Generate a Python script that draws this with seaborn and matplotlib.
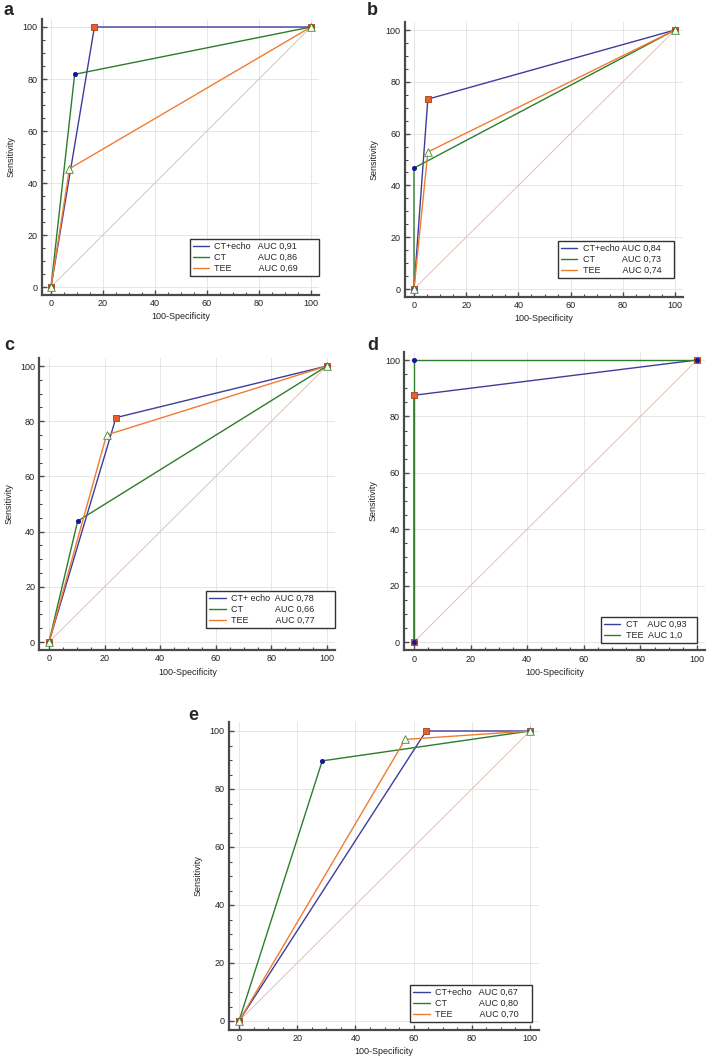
import numpy as np
import pandas as pd
import seaborn as sns
import matplotlib.pyplot as plt
from matplotlib.lines import Line2D
from matplotlib.ticker import MultipleLocator
from matplotlib.textpath import TextPath
from matplotlib.font_manager import FontProperties

sns.set_theme(style="white")
plt.rcParams['font.family'] = ['Liberation Sans', 'DejaVu Sans']

# ROC points: 100-specificity (x) and sensitivity (y) for each test
a_names = ['CT+echo', 'CT', 'TEE']
a_auc = ['0,91', '0,86', '0,69']
a_fpr = [[0, 16.7, 100], [0, 9.1, 100], [0, 7.1, 100]]
a_tpr = [[0, 100, 100], [0, 81.8, 100], [0, 45.5, 100]]

b_names = ['CT+echo', 'CT', 'TEE']
b_auc = ['0,84', '0,73', '0,74']
b_fpr = [[0, 5.3, 100], [0, 0, 100], [0, 5.3, 100]]
b_tpr = [[0, 73.3, 100], [0, 46.7, 100], [0, 52.9, 100]]

c_names = ['CT+ echo', 'CT', 'TEE']
c_auc = ['0,78', '0,66', '0,77']
c_fpr = [[0, 24.1, 100], [0, 10.3, 100], [0, 20.7, 100]]
c_tpr = [[0, 81.3, 100], [0, 43.8, 100], [0, 75.0, 100]]

d_names = ['CT', 'TEE']
d_auc = ['0,93', '1,0']
d_fpr = [[0, 0, 100], [0, 0, 100]]
d_tpr = [[0, 87.5, 100], [0, 100, 100]]

e_names = ['CT+echo', 'CT', 'TEE']
e_auc = ['0,67', '0,80', '0,70']
e_fpr = [[0, 64.3, 100], [0, 28.6, 100], [0, 57.1, 100]]
e_tpr = [[0, 100, 100], [0, 89.7, 100], [0, 97.1, 100]]

W, H = 708, 1061
XLIM = (-3.5, 103)
YLIM = (-3, 103)
FS = 6.5

LINE_COLORS = ['#3d3d9c', '#2c7d2c', '#f07c32']
MARKERS = [dict(marker='s', s=16, color='#e8602c', edgecolor='#a8401c'),
           dict(marker='o', s=9, color='#1414a0', edgecolor='#1414a0'),
           dict(marker='^', s=30, color='#fbfbea', edgecolor='#3a8a3a')]

prop = FontProperties(family='Liberation Sans', size=FS)


def text_w(s):
    return TextPath((0, 0), s, prop=prop).get_extents().width


def legend_labels(names, aucs, gap, tail):
    sp = text_w('x x') - text_w('xx')
    widths = [text_w(n) for n in names]
    wmax = max(widths)
    out = []
    for n, w, a in zip(names, widths, aucs):
        k = gap + int(round((wmax - w) / sp))
        out.append(n + ' ' * k + 'AUC ' + a + '\u00a0' * tail)
    return out


def axes_rect(x0, x100, y0, y100):
    # pixel positions of data 0 and 100 -> figure rect
    ux = (x100 - x0) / 100
    uy = (y0 - y100) / 100
    left = x0 + XLIM[0] * ux
    right = x0 + XLIM[1] * ux
    bottom = y0 - YLIM[0] * uy
    top = y0 - YLIM[1] * uy
    return [left / W, 1 - bottom / H, (right - left) / W, (bottom - top) / H]


def draw(fig, rect, letter, letter_pos, names, aucs, fprs, tprs, gap, tail, anchor):
    ax = fig.add_axes(axes_rect(*rect))
    rows = []
    for n, f, t in zip(names, fprs, tprs):
        for x, y in zip(f, t):
            rows.append((n, x, y))
    df = pd.DataFrame(rows, columns=['test', 'fpr', 'tpr'])

    ax.plot([0, 100], [0, 100], color='#dcb6b0', lw=0.6, zorder=1)
    sns.lineplot(data=df, x='fpr', y='tpr', hue='test', hue_order=names,
                 palette=LINE_COLORS[:len(names)], sort=False, estimator=None,
                 linewidth=1.0, legend=False, ax=ax, zorder=2)
    for i, n in enumerate(names):
        sns.scatterplot(data=df[df.test == n], x='fpr', y='tpr', ax=ax,
                        legend=False, linewidth=0.6, zorder=3 + i, **MARKERS[i])

    ax.set_xlim(XLIM)
    ax.set_ylim(YLIM)
    for axis in (ax.xaxis, ax.yaxis):
        axis.set_major_locator(MultipleLocator(20))
        axis.set_minor_locator(MultipleLocator(5))
    ax.grid(True, which='major', color='#e2e2e2', lw=0.6)
    ax.set_axisbelow(True)
    for s in ['top', 'right']:
        ax.spines[s].set_visible(False)
    for s in ['left', 'bottom']:
        ax.spines[s].set_color('#4a4a4a')
        ax.spines[s].set_linewidth(1.6)
    ax.tick_params(which='both', direction='in', left=True, bottom=True,
                   colors='#4a4a4a', labelcolor='#222222', labelsize=FS)
    ax.tick_params(which='major', length=3.5, width=1, pad=3)
    ax.tick_params(which='minor', length=2, width=0.8)
    ax.set_xlabel('100-Specificity', fontsize=FS, labelpad=3, color='#222222')
    ax.set_ylabel('Sensitivity', fontsize=FS, labelpad=5, color='#222222')

    handles = [Line2D([], [], color=c, lw=1.0) for c in LINE_COLORS[:len(names)]]
    leg = ax.legend(handles, legend_labels(names, aucs, gap, tail), loc='lower right',
                    bbox_to_anchor=anchor, fontsize=FS, frameon=True,
                    fancybox=False, edgecolor='#333333', framealpha=1,
                    borderpad=0.35, handlelength=1.8, handletextpad=0.6,
                    labelspacing=0.22, borderaxespad=0)
    leg.get_frame().set_linewidth(1.0)
    leg.set_zorder(10)

    fig.text(letter_pos[0] / W, 1 - letter_pos[1] / H, letter, fontsize=13,
             fontweight='bold', va='baseline', ha='left')
    return ax


fig = plt.figure(figsize=(W / 100, H / 100), dpi=100)

draw(fig, (51, 311, 287, 27), 'a', (3, 15), a_names, a_auc, a_fpr, a_tpr, 3, 7, (1.0, 0.068))
draw(fig, (414, 675, 289, 30), 'b', (367, 15), b_names, b_auc, b_fpr, b_tpr, 1, 4, (0.97, 0.068))
draw(fig, (49, 327, 642, 366), 'c', (4, 350), c_names, c_auc, c_fpr, c_tpr, 2, 7, (1.0, 0.076))
draw(fig, (414, 697, 642, 360), 'd', (367, 350), d_names, d_auc, d_fpr, d_tpr, 2, 3, (0.971, 0.025))
draw(fig, (239, 530, 1021, 731), 'e', (188, 720), e_names, e_auc, e_fpr, e_tpr, 3, 4, (0.978, 0.025))

fig.savefig('out.png', dpi=100, facecolor='white')
